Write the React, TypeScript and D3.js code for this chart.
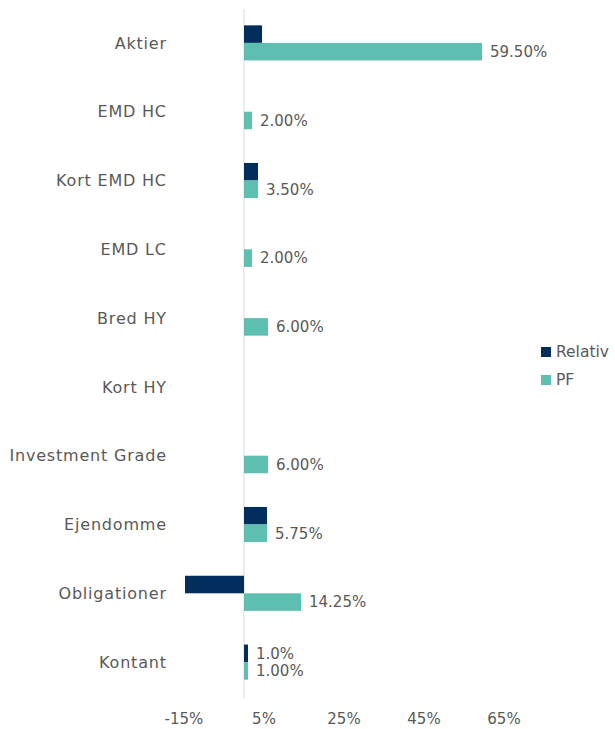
import React, { useRef, useEffect } from "react";
import * as d3 from "d3";

const categories = ["Aktier", "EMD HC", "Kort EMD HC", "EMD LC", "Bred HY", "Kort HY", "Investment Grade", "Ejendomme", "Obligationer", "Kontant"];
const relativ = [4.5, 0, 3.5, 0, 0, 0, 0, 5.75, -14.75, 1.0];
const pf = [59.5, 2.0, 3.5, 2.0, 6.0, 0, 6.0, 5.75, 14.25, 1.0];
const relativLabels = [null, null, null, null, null, null, null, null, null, "1.0%"];
const pfLabels = ["59.50%", "2.00%", "3.50%", "2.00%", "6.00%", null, "6.00%", "5.75%", "14.25%", "1.00%"];
const xTicks = [-15, 5, 25, 45, 65];
const seriesNames = ["Relativ", "PF"];

const NAVY = "#032d5d";
const TEAL = "#5cbfaf";
const TEXT = "#595959";
const FONT = "'DejaVu Sans', sans-serif";

function App() {
  const svgRef = useRef(null);

  useEffect(() => {
    const width = 615;
    const height = 729;
    const svg = d3.select(svgRef.current);
    svg.selectAll("*").remove();
    svg.attr("width", width).attr("height", height);

    const x = d3.scaleLinear().domain([-15, 65]).range([184, 504]);
    const y = d3.scaleBand().domain(categories).range([8.5, 696.5]).paddingInner(0.49).paddingOuter(0.245);
    const sub = d3.scaleBand().domain(seriesNames).range([0, y.bandwidth()]);

    // zero line
    svg.append("line")
      .attr("x1", x(0)).attr("x2", x(0))
      .attr("y1", 9).attr("y2", 698)
      .attr("stroke", "#d9d9d9").attr("stroke-width", 1);

    const rows = svg.selectAll("g.row")
      .data(categories)
      .enter()
      .append("g")
      .attr("class", "row")
      .attr("transform", (d) => `translate(0,${y(d)})`);

    rows.append("rect")
      .attr("x", (_, i) => x(Math.min(0, relativ[i])))
      .attr("y", sub("Relativ"))
      .attr("width", (_, i) => Math.abs(x(relativ[i]) - x(0)))
      .attr("height", sub.bandwidth())
      .attr("fill", NAVY);

    rows.append("rect")
      .attr("x", (_, i) => x(Math.min(0, pf[i])))
      .attr("y", sub("PF"))
      .attr("width", (_, i) => Math.abs(x(pf[i]) - x(0)))
      .attr("height", sub.bandwidth())
      .attr("fill", TEAL);

    rows.append("text")
      .attr("x", (_, i) => x(Math.max(0, relativ[i])) + 8)
      .attr("y", sub("Relativ") + sub.bandwidth() / 2)
      .attr("dy", "0.35em")
      .style("font-family", FONT)
      .style("font-size", "15px")
      .attr("fill", TEXT)
      .text((_, i) => relativLabels[i] ?? "");

    rows.append("text")
      .attr("x", (_, i) => x(Math.max(0, pf[i])) + 8)
      .attr("y", sub("PF") + sub.bandwidth() / 2)
      .attr("dy", "0.35em")
      .style("font-family", FONT)
      .style("font-size", "15px")
      .attr("fill", TEXT)
      .text((_, i) => pfLabels[i] ?? "");

    // category labels
    svg.selectAll("text.cat")
      .data(categories)
      .enter()
      .append("text")
      .attr("class", "cat")
      .attr("x", 166.8)
      .attr("y", (d) => y(d) + y.bandwidth() / 2)
      .attr("dy", "0.35em")
      .attr("text-anchor", "end")
      .style("font-family", FONT)
      .style("font-size", "16px")
      .style("letter-spacing", "0.8px")
      .attr("fill", TEXT)
      .text((d) => d);

    // x axis tick labels
    svg.selectAll("text.tick")
      .data(xTicks)
      .enter()
      .append("text")
      .attr("class", "tick")
      .attr("x", (d) => x(d))
      .attr("y", 719)
      .attr("dy", "0.35em")
      .attr("text-anchor", "middle")
      .style("font-family", FONT)
      .style("font-size", "15px")
      .attr("fill", TEXT)
      .text((d) => `${d}%`);

    // legend
    const legend = svg.selectAll("g.legend")
      .data(seriesNames)
      .enter()
      .append("g")
      .attr("class", "legend")
      .attr("transform", (_, i) => `translate(541,${347 + i * 28})`);
    legend.append("rect")
      .attr("width", 10).attr("height", 10)
      .attr("fill", (_, i) => (i === 0 ? NAVY : TEAL));
    legend.append("text")
      .attr("x", 15).attr("y", 5).attr("dy", "0.35em")
      .style("font-family", FONT)
      .style("font-size", "15.5px")
      .attr("fill", TEXT)
      .text((d) => d);
  }, []);

  return (
    <svg ref={svgRef} style={{ position: "absolute", left: 0, top: 0 }}></svg>
  );
}

export default App;
